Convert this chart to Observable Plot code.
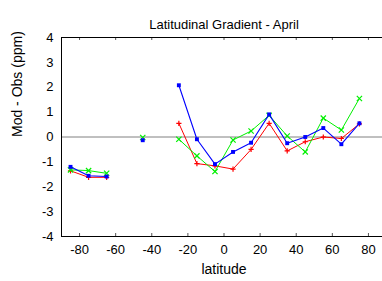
<!DOCTYPE html>
<html>
<head>
<meta charset="utf-8">
<script src="https://cdn.jsdelivr.net/npm/d3@7"></script>
<script src="https://cdn.jsdelivr.net/npm/@observablehq/plot@0.6"></script>
<style>
  html, body { margin: 0; padding: 0; background: #fff; overflow: hidden; }
  svg { display: block; }
</style>
</head>
<body>
<div id="chart"></div>
<script>
const title = "Latitudinal Gradient - April";
const xLabel = "latitude";
const yLabel = "Mod - Obs (ppm)";
const xTicks = [-80, -60, -40, -20, 0, 20, 40, 60, 80];
const yTicks = [-4, -3, -2, -1, 0, 1, 2, 3, 4];

const latitudes = [-85, -75, -65, -55, -45, -35, -25, -15, -5, 5, 15, 25, 35, 45, 55, 65, 75];
const redValues   = [-1.36, -1.62, -1.62, null, null, null, 0.55, -1.07, -1.16, -1.29, -0.50, 0.55, -0.56, -0.19, 0.00, -0.06, 0.53];
const greenValues = [-1.32, -1.35, -1.46, null, -0.02, null, -0.09, -0.76, -1.39, -0.12, 0.24, 0.87, 0.04, -0.60, 0.76, 0.28, 1.55];
const blueValues  = [-1.20, -1.56, -1.59, null, -0.13, null, 2.08, -0.09, -1.09, -0.60, -0.23, 0.91, -0.25, 0.00, 0.36, -0.29, 0.55];

const toRows = vals => latitudes.map((lat, i) => ({lat, v: vals[i]}));
const red = toRows(redValues);
const green = toRows(greenValues);
const blue = toRows(blueValues);
const defined = rows => rows.filter(d => d.v != null);

const font = "'Liberation Sans', Arial, sans-serif";

const chart = Plot.plot({
  width: 382,
  height: 281,
  marginLeft: 61,
  marginRight: -4,
  marginTop: 37,
  marginBottom: 45,
  style: {fontFamily: font, fontSize: "13px", background: "white", color: "black", overflow: "visible"},
  x: {domain: [-90, 90]},
  y: {domain: [-4, 4]},
  marks: [
    Plot.ruleY([0], {stroke: "#808080", strokeWidth: 1}),
    Plot.ruleX(xTicks, {x: d => d, y1: -4, y2: -3.88, stroke: "#555"}),
    Plot.ruleX(xTicks, {x: d => d, y1: 4, y2: 3.88, stroke: "#555"}),
    Plot.frame({stroke: "black", strokeWidth: 1}),
    Plot.axisX({ticks: xTicks, tickSize: 0, tickPadding: 8, tickFormat: d => String(d), label: null, fontSize: 13}),
    Plot.axisY({ticks: yTicks, tickSize: 0, tickPadding: 8, tickFormat: d => String(d), label: null, fontSize: 13}),
    Plot.line(red, {x: "lat", y: "v", stroke: "#ff0000", strokeWidth: 1}),
    Plot.dot(defined(red), {x: "lat", y: "v", symbol: "plus", r: 1.8, stroke: "#ff0000", strokeWidth: 1.2}),
    Plot.line(green, {x: "lat", y: "v", stroke: "#00f000", strokeWidth: 1}),
    Plot.dot(defined(green), {x: "lat", y: "v", symbol: "times", r: 2.5, stroke: "#00f000", strokeWidth: 1.2}),
    Plot.line(blue, {x: "lat", y: "v", stroke: "#0000ff", strokeWidth: 1.1}),
    Plot.dot(defined(blue), {x: "lat", y: "v", symbol: "square", r: 2.2, fill: "#0000ff", stroke: "none"}),
    Plot.text([title], {frameAnchor: "top", dy: -18, fontSize: 13}),
    Plot.text([xLabel], {frameAnchor: "bottom", dy: 37, fontSize: 14}),
    Plot.text([yLabel], {frameAnchor: "left", dx: -44, rotate: -90, fontSize: 14})
  ]
});
document.getElementById("chart").appendChild(chart);
</script>
</body>
</html>
